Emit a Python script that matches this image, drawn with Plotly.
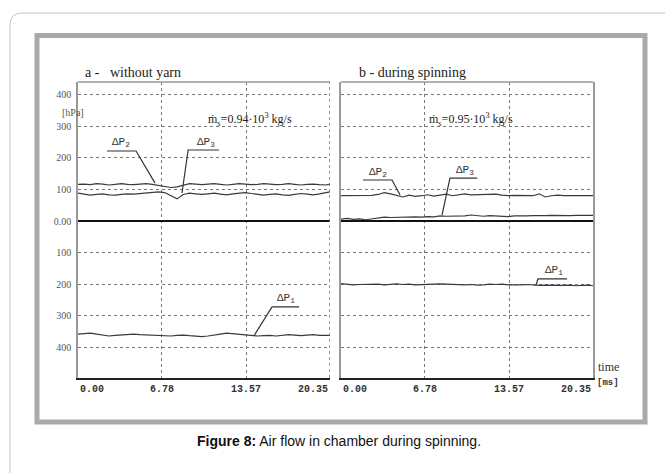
import plotly.graph_objects as go

# ---------------- data ----------------
time_ms = [0.0, 0.5, 1.0, 1.5, 2.0, 2.5, 3.0, 3.5, 4.0, 4.5, 5.0, 5.5, 6.0, 6.5,
           7.0, 7.5, 8.0, 8.5, 9.0, 9.5, 10.0, 10.5, 11.0, 11.5, 12.0, 12.5, 13.0,
           13.5, 14.0, 14.5, 15.0, 15.5, 16.0, 16.5, 17.0, 17.5, 18.0, 18.5, 19.0,
           19.5, 20.0, 20.35]

# panel a - without yarn
a_dp2 = [116, 117, 115, 118, 117, 114, 116, 118, 116, 115, 117, 118, 116, 113,
         110, 106, 108, 114, 118, 117, 115, 117, 118, 116, 114, 116, 118, 117,
         115, 116, 118, 117, 115, 116, 118, 116, 114, 116, 117, 115, 114, 117]
a_dp3 = [88, 85, 82, 84, 86, 83, 82, 84, 86, 85, 87, 88, 90, 92,
         90, 80, 70, 84, 88, 86, 84, 86, 88, 85, 83, 86, 89, 90,
         87, 84, 82, 84, 86, 83, 81, 84, 87, 85, 83, 86, 90, 92]
a_dp1 = [-358, -356, -355, -358, -362, -364, -362, -361, -360, -358, -360, -361,
         -360, -361, -362, -364, -362, -361, -363, -365, -366, -364, -362, -358,
         -355, -357, -360, -361, -362, -364, -363, -362, -364, -362, -360, -361,
         -363, -361, -360, -362, -363, -362]

# panel b - during spinning
b_dp2 = [80, 80, 81, 80, 80, 81, 84, 90, 86, 80, 76, 82, 78, 80,
         83, 79, 82, 85, 80, 84, 86, 83, 84, 85, 84, 85, 82, 80,
         81, 80, 81, 80, 86, 76, 80, 82, 80, 80, 81, 80, 80, 80]
b_dp3 = [6, 8, 5, 7, 4, 6, 10, 12, 11, 12, 13, 12, 13, 12,
         14, 13, 16, 15, 15, 17, 16, 19, 16, 15, 17, 16, 15, 14,
         16, 15, 16, 17, 16, 17, 18, 17, 18, 17, 18, 18, 18, 18]
b_dp1 = [-198, -200, -202, -201, -200, -201, -200, -202, -200, -199, -201, -200,
         -202, -201, -200, -201, -199, -200, -201, -200, -202, -201, -203, -202,
         -200, -201, -200, -202, -203, -202, -201, -203, -204, -203, -204, -205,
         -204, -203, -205, -204, -203, -205]

x_ticks = [0.0, 6.78, 13.57, 20.35]
x_ticktext = ["0.00", "6.78", "13.57", "20.35"]
y_ticks = [400, 300, 200, 100, 0, -100, -200, -300, -400]
y_ticktext = ["400", "300", "200", "100", "0.00", "100", "200", "300", "400"]

# ---------------- figure ----------------
W, H = 665, 473
def px(x):
    return x / W
def py(y):
    return 1 - y / H

LINE = "#3a3a3a"
fig = go.Figure()
for xa, ya, series in [("x", "y", [a_dp2, a_dp3, a_dp1]),
                       ("x2", "y2", [b_dp2, b_dp3, b_dp1])]:
    for s in series:
        fig.add_trace(go.Scatter(x=time_ms, y=s, mode="lines", xaxis=xa, yaxis=ya,
                                 line=dict(color=LINE, width=1.2), showlegend=False,
                                 hoverinfo="skip"))

tick_font = dict(family="Liberation Mono", size=10, color="#333", weight="bold")
yrange = [-497, 440]
xcommon = dict(range=[0, 20.35], tickvals=x_ticks[1:3], ticktext=x_ticktext[1:3],
               showgrid=True, gridcolor="#777", griddash="dot", gridwidth=1,
               zeroline=False, showline=True, linecolor="#222", linewidth=2,
               ticks="", automargin=False, tickfont=tick_font, fixedrange=True)
ycommon = dict(range=yrange, tickvals=y_ticks, showgrid=True, gridcolor="#777",
               griddash="dot", gridwidth=1, zeroline=True, zerolinecolor="#111",
               zerolinewidth=2, showline=True, linecolor="#999", linewidth=1.5,
               ticks="", automargin=False, fixedrange=True)

fig.update_layout(
    width=W, height=H, autosize=False, margin=dict(l=0, r=0, t=0, b=0, pad=0),
    paper_bgcolor="white", plot_bgcolor="white",
    xaxis=dict(domain=[px(78), px(330)], anchor="y", **xcommon),
    yaxis=dict(domain=[py(378), py(82)], anchor="x", ticktext=y_ticktext,
               tickfont=dict(family="Liberation Serif", size=10, color="#555"),
               ticklabelstandoff=3, **ycommon),
    xaxis2=dict(domain=[px(341), px(593)], anchor="y2", **xcommon),
    yaxis2=dict(domain=[py(378), py(82)], anchor="x2", showticklabels=False,
                mirror=True, **ycommon),
)

shapes = []
# outer rounded box (page frame)
shapes.append(dict(type="path", xref="paper", yref="paper",
                   path=f"M {px(10)},0 L {px(10)},{py(25)} Q {px(10)},{py(13)} {px(22)},{py(13)} L 1,{py(13)}",
                   line=dict(color="#c4c4c4", width=1)))
# inner image frame
shapes.append(dict(type="rect", xref="paper", yref="paper",
                   x0=px(37), x1=px(645), y0=py(422), y1=py(35.5),
                   line=dict(color="#aaaaaa", width=5)))
# dotted right edge of panel a
shapes.append(dict(type="line", xref="x", yref="y domain", x0=20.35, x1=20.35, y0=0, y1=1,
                   line=dict(color="#777", width=1.5, dash="dot")))
# top borders of panels
for xr, yr in [("x domain", "y domain"), ("x2 domain", "y2 domain")]:
    shapes.append(dict(type="line", xref=xr, yref=yr, x0=0, x1=1, y0=1, y1=1,
                       line=dict(color="#999", width=1.5)))
# leader lines for labels
leaders = [
    ("x", "y", [(2.34, 221.5), (4.69, 221.5), (6.22, 120)]),
    ("x", "y", [(11.39, 224.7), (8.89, 224.7), (8.4, 88.6)]),
    ("x", "y", [(17.85, -272), (15.67, -272), (14.2, -364)]),
    ("x2", "y2", [(1.78, 129.7), (4.12, 129.7), (4.77, 82)]),
    ("x2", "y2", [(11.0, 136), (8.8, 136), (8.16, 19)]),
    ("x2", "y2", [(18.26, -183.5), (15.9, -183.5), (15.75, -203)]),
]
for xr, yr, pts in leaders:
    path = "M " + " L ".join(f"{x},{y}" for x, y in pts)
    shapes.append(dict(type="path", xref=xr, yref=yr, path=path,
                       line=dict(color="#333", width=1.2)))
fig.update_layout(shapes=shapes)

ann = []
lab_font = dict(family="Liberation Mono", size=11, color="#333")
for xr, yr, x, y, t in [("x", "y", 3.45, 247, "ΔP<sub>2</sub>"),
                        ("x", "y", 10.3, 250, "ΔP<sub>3</sub>"),
                        ("x", "y", 16.8, -244, "ΔP<sub>1</sub>"),
                        ("x2", "y2", 2.95, 155, "ΔP<sub>2</sub>"),
                        ("x2", "y2", 10.0, 160, "ΔP<sub>3</sub>"),
                        ("x2", "y2", 17.2, -158, "ΔP<sub>1</sub>")]:
    ann.append(dict(xref=xr, yref=yr, x=x, y=y, text=t, showarrow=False,
                    font=lab_font))

# end tick labels of the time axes (left / right aligned at their ticks)
for xr, yr in [("x", "y domain"), ("x2", "y2 domain")]:
    ann.append(dict(xref=xr, yref=yr, x=x_ticks[0], y=0, xanchor="left", yanchor="top",
                    yshift=-4, text=x_ticktext[0], showarrow=False, font=tick_font))
    ann.append(dict(xref=xr, yref=yr, x=x_ticks[-1], y=0, xanchor="right", yanchor="top",
                    yshift=-4, text=x_ticktext[-1], showarrow=False, font=tick_font))

serif = "Liberation Serif"
ann += [
    dict(xref="paper", yref="paper", x=px(83), y=py(63), xanchor="left",
         text="a -   without yarn", showarrow=False,
         font=dict(family=serif, size=14, color="#222")),
    dict(xref="paper", yref="paper", x=px(357), y=py(63), xanchor="left",
         text="b - during spinning", showarrow=False,
         font=dict(family=serif, size=14, color="#222")),
    dict(xref="paper", yref="paper", x=px(250), y=py(109),
         text="ṁ<sub>s</sub>=0.94·10<sup>3</sup> kg/s", showarrow=False,
         font=dict(family=serif, size=12, color="#222")),
    dict(xref="paper", yref="paper", x=px(515), y=py(109),
         text="ṁ<sub>s</sub>=0.95·10<sup>3</sup> kg/s", showarrow=False,
         font=dict(family=serif, size=12, color="#222")),
    dict(xref="paper", yref="paper", x=px(60), y=py(105),
         text="[hPa]", showarrow=False,
         font=dict(family=serif, size=10, color="#555")),
    dict(xref="paper", yref="paper", x=px(621), y=py(376),
         text="time", showarrow=False,
         font=dict(family=serif, size=12, color="#333")),
    dict(xref="paper", yref="paper", x=px(621), y=py(390),
         text="[ms]", showarrow=False,
         font=dict(family="Liberation Mono", size=9, color="#333", weight="bold")),
    dict(xref="paper", yref="paper", x=px(339), y=py(451),
         text="<b>Figure 8:</b> Air flow in chamber during spinning.", showarrow=False,
         font=dict(family="Liberation Sans", size=14, color="#111")),
]
fig.update_layout(annotations=ann)

fig.write_html("out.html", config={"displayModeBar": False},
               post_script="document.body.style.margin='0px';")
